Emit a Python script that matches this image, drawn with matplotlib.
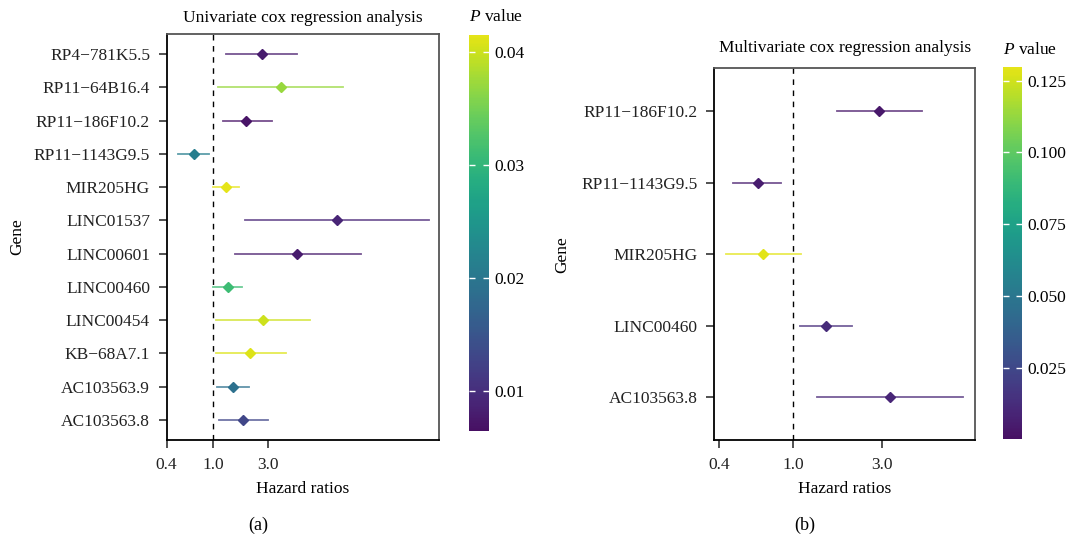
import numpy as np
import matplotlib
matplotlib.use("Agg")
import matplotlib.pyplot as plt
from matplotlib import colors, cm

plt.rcParams['font.family'] = ['Liberation Serif', 'DejaVu Serif']
plt.rcParams['mathtext.fontset'] = 'custom'
plt.rcParams['mathtext.it'] = 'Liberation Serif:italic'
plt.rcParams['mathtext.rm'] = 'Liberation Serif'

# univariate
genes_uni = ["RP4−781K5.5", "RP11−64B16.4", "RP11−186F10.2", "RP11−1143G9.5", "MIR205HG",
             "LINC01537", "LINC00601", "LINC00460", "LINC00454", "KB−68A7.1",
             "AC103563.9", "AC103563.8"]
hr_uni = [2.66, 3.86, 1.95, 0.685, 1.31, 11.7, 5.3, 1.35, 2.69, 2.09, 1.50, 1.83]
lo_uni = [1.31, 1.11, 1.22, 0.50, 1.01, 1.89, 1.54, 1.0, 1.07, 1.06, 1.08, 1.14]
hi_uni = [5.34, 13.4, 3.22, 0.92, 1.70, 72.7, 18.9, 1.77, 6.87, 4.26, 2.07, 3.02]
p_uni = [0.008, 0.037, 0.007, 0.021, 0.0415, 0.009, 0.008, 0.031, 0.040, 0.041, 0.019, 0.013]

# multivariate
genes_multi = ["RP11−186F10.2", "RP11−1143G9.5", "MIR205HG", "LINC00460", "AC103563.8"]
hr_multi = [2.92, 0.651, 0.692, 1.50, 3.32]
lo_multi = [1.72, 0.474, 0.435, 1.09, 1.35]
hi_multi = [4.96, 0.859, 1.11, 2.08, 8.24]
p_multi = [0.004, 0.006, 0.129, 0.012, 0.010]

xticks = [0.4, 1.0, 3.0]
xticklabels = ["0.4", "1.0", "3.0"]

FS = 12.5
base = plt.get_cmap('viridis')
cmap = colors.LinearSegmentedColormap.from_list('vir', base(np.linspace(0.04, 0.96, 256)))


def forest(ax, cax, genes, hr, lo, hi, p, vmin, vmax, cticks, cfmt, xlim, title, ylab_x, tpad):
    n = len(genes)
    ys = np.arange(n, 0, -1)
    norm = colors.Normalize(vmin=vmin, vmax=vmax)
    cols = cmap(norm(np.array(p)))
    ax.axvline(1.0, color='black', ls=(0, (4, 4)), lw=1.0, zorder=1)
    for y, h, l, u, c in zip(ys, hr, lo, hi, cols):
        ax.plot([l, u], [y, y], color=c, lw=1.3, alpha=0.75, zorder=2)
        ax.plot(h, y, marker='D', color=c, ms=5.5, zorder=3)
    ax.set_xscale('log')
    ax.set_xlim(*xlim)
    ax.set_ylim(0.4, n + 0.6)
    ax.set_xticks(xticks)
    ax.set_xticklabels(xticklabels)
    ax.xaxis.set_minor_locator(matplotlib.ticker.NullLocator())
    ax.set_yticks(ys)
    ax.set_yticklabels(genes)
    ax.tick_params(axis='both', labelsize=FS, length=6, width=1.1, pad=6, colors='#222222')
    for s in ['left', 'bottom']:
        ax.spines[s].set_color('black')
        ax.spines[s].set_linewidth(1.3)
    for s in ['top', 'right']:
        ax.spines[s].set_color('#555555')
        ax.spines[s].set_linewidth(1.3)
    ax.set_xlabel("Hazard ratios", fontsize=FS, labelpad=6)
    ax.set_ylabel("Gene", fontsize=FS)
    ax.yaxis.set_label_coords(ylab_x, 0.5)
    ax.set_title(title, fontsize=FS, pad=tpad)

    cb = plt.colorbar(cm.ScalarMappable(norm=norm, cmap=cmap), cax=cax)
    cb.outline.set_visible(False)
    cb.set_ticks(cticks)
    cb.set_ticklabels([cfmt % t for t in cticks])
    cax.yaxis.set_ticks_position('both')
    cax.tick_params(which='major', direction='in', color='white', length=4, width=1,
                    labelsize=FS, labelleft=False, labelright=True, pad=4)
    cax.tick_params(which='minor', length=0)
    cax.text(0.0, 1.025, "$P$ value", transform=cax.transAxes, ha='left', va='bottom', fontsize=FS)


fig = plt.figure(figsize=(10.78, 5.42), dpi=100)
ax1 = fig.add_axes([0.1546, 0.1882, 0.2529, 0.749])
cax1 = fig.add_axes([0.4354, 0.2054, 0.0183, 0.730])
ax2 = fig.add_axes([0.6623, 0.1882, 0.2424, 0.6858])
cax2 = fig.add_axes([0.9307, 0.1895, 0.0171, 0.6863])

forest(ax1, cax1, genes_uni, hr_uni, lo_uni, hi_uni, p_uni, 0.0065, 0.0415,
       [0.01, 0.02, 0.03, 0.04], "%.2f", (0.4, 90), "Univariate cox regression analysis",
       -0.52, 9)
forest(ax2, cax2, genes_multi, hr_multi, lo_multi, hi_multi, p_multi, 0.0002, 0.1296,
       [0.025, 0.05, 0.075, 0.1, 0.125], "%.3f", (0.376, 9.56), "Multivariate cox regression analysis",
       -0.551, 12)

fig.text(258 / 1078, 1 - 525 / 542, "(a)", ha='center', va='center', fontsize=FS + 0.5)
fig.text(805 / 1078, 1 - 525 / 542, "(b)", ha='center', va='center', fontsize=FS + 0.5)

fig.savefig("out.png", dpi=100)
